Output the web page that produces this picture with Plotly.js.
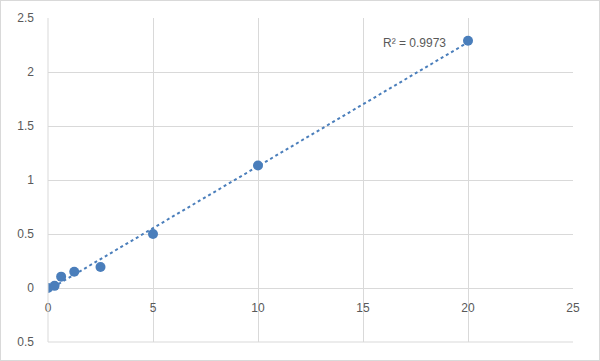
<!DOCTYPE html>
<html><head><meta charset="utf-8">
<script src="https://cdn.plot.ly/plotly-3.0.1.min.js"></script>
<style>
html,body{margin:0;padding:0;background:#fff;}
#wrap{width:600px;height:361px;box-sizing:border-box;border:1px solid #d9d9d9;}
#chart{width:598px;height:359px;}
</style></head>
<body><div id="wrap"><div id="chart"></div></div>
<script>
const concentrations = [0, 0.3125, 0.625, 1.25, 2.5, 5, 10, 20];
const odValues = [0.0, 0.02, 0.105, 0.15, 0.195, 0.5, 1.135, 2.29];
const rSquaredLabel = "R² = 0.9973";
const xTickVals = [0, 5, 10, 15, 20, 25];
const xTickText = ["0", "5", "10", "15", "20", "25"];
const yTickVals = [-0.5, 0, 0.5, 1, 1.5, 2, 2.5];
const yTickText = ["0.5", "0", "0.5", "1", "1.5", "2", "2.5"];

// least-squares linear trendline
const n = concentrations.length;
const mx = concentrations.reduce((a,b)=>a+b,0)/n;
const my = odValues.reduce((a,b)=>a+b,0)/n;
let sxy=0, sxx=0;
for (let i=0;i<n;i++){ sxy += (concentrations[i]-mx)*(odValues[i]-my); sxx += (concentrations[i]-mx)**2; }
const slope = sxy/sxx, intercept = my - slope*mx;
const xMin = Math.min(...concentrations), xMax = Math.max(...concentrations);
const trendX = [xMin, xMax];
const trendY = trendX.map(x => intercept + slope*x);

const blue = '#4a7ebb';
const grid = '#d9d9d9';
const txt = '#595959';
const font = {family: 'Liberation Sans, Arial, sans-serif', size: 12, color: txt};

Plotly.newPlot('chart', [
  {x: trendX, y: trendY, mode: 'lines', line: {color: blue, width: 2, dash: 'dot'}, hoverinfo: 'skip', showlegend: false},
  {x: concentrations, y: odValues, mode: 'markers', marker: {color: blue, size: 10}, showlegend: false}
], {
  width: 598, height: 359,
  margin: {l: 47, r: 26, t: 17, b: 18},
  paper_bgcolor: '#fff', plot_bgcolor: '#fff',
  font: font,
  showlegend: false,
  xaxis: {range: [0, 25], tickvals: xTickVals, ticktext: xTickText, showgrid: true, gridcolor: grid, gridwidth: 1,
          zeroline: false, showline: false, ticks: '', anchor: 'free', position: 1/6, ticklabelstandoff: 11,
          tickfont: font, fixedrange: true},
  yaxis: {range: [-0.5, 2.5], tickvals: yTickVals, ticktext: yTickText, showgrid: true, gridcolor: grid, gridwidth: 1,
          zeroline: true, zerolinecolor: grid, zerolinewidth: 1, showline: false, ticks: '', ticklabelstandoff: 13,
          tickfont: font, fixedrange: true},
  shapes: [
    {type: 'line', xref: 'paper', yref: 'paper', x0: 0, x1: 1, y0: 0, y1: 0, line: {color: grid, width: 1}},
    {type: 'line', xref: 'paper', yref: 'paper', x0: 0, x1: 0, y0: 0, y1: 1, line: {color: grid, width: 1}}
  ],
  annotations: [
    {x: 19.05, y: 2.27, xref: 'x', yref: 'y', text: rSquaredLabel, showarrow: false, xanchor: 'right',
     font: {family: 'Liberation Sans, Arial, sans-serif', size: 12, color: txt}}
  ]
}, {staticPlot: true, displayModeBar: false});
</script></body></html>
